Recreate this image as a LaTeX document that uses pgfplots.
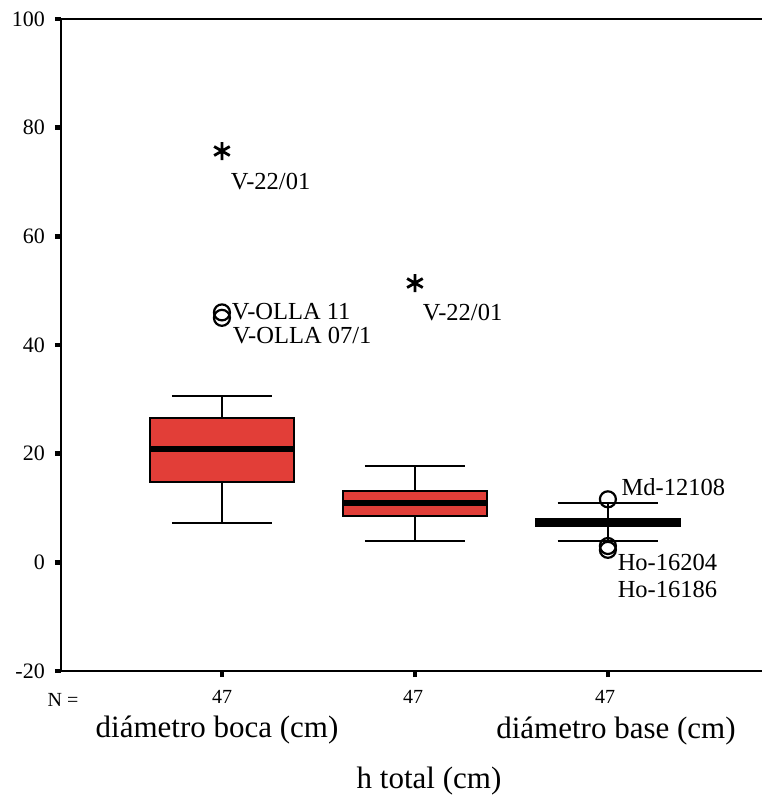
\documentclass[border=0pt]{standalone}
\usepackage{fontspec}
\setmainfont{Liberation Serif}
\usepackage{pgfplots}
\pgfplotsset{compat=1.18}
\definecolor{boxred}{RGB}{226,62,56}
\newcommand{\fs}[1]{\fontsize{#1}{#1}\selectfont}

\begin{document}
\begin{tikzpicture}
\begin{axis}[
  name=ax, at={(0,0)}, anchor=south west,
  scale only axis, width=709bp, height=652bp,
  xmin=0.166, xmax=3.84, ymin=-20, ymax=100,
  axis line style={line width=2.5bp},
  ytick={-20,0,20,40,60,80,100},
  xtick={1,2,3}, xticklabels={},
  tick align=outside, ytick pos=left, xtick pos=bottom,
  major tick length=6bp,
  tick style={line width=4.5bp, black},
  yticklabel style={font=\fs{22bp}, inner sep=0pt, anchor=east, xshift=-10bp},
  /pgf/number format/assume math mode=true,
  clip=false,
  unbounded coords=jump,
]

% diametro boca: box 14.8-26.5, median 20.8, whiskers 7.2 / 30.6
\addplot[black, line width=2bp] coordinates {
  (0.74,30.6)(1.26,30.6) (1,nan) (1,30.6)(1,26.5) (1,nan)
  (0.74,7.2)(1.26,7.2) (1,nan) (1,7.2)(1,14.8)};
\addplot[draw=black, fill=boxred, line width=2bp] coordinates {
  (0.625,14.8)(1.375,14.8)(1.375,26.5)(0.625,26.5)} -- cycle;
\addplot[black, line width=6bp] coordinates {(0.625,20.8)(1.375,20.8)};

% h total: box 8.5-13.1, median 11.0, whiskers 3.9 / 17.7
\addplot[black, line width=2bp] coordinates {
  (1.74,17.7)(2.26,17.7) (2,nan) (2,17.7)(2,13.1) (2,nan)
  (1.74,3.9)(2.26,3.9) (2,nan) (2,3.9)(2,8.5)};
\addplot[draw=black, fill=boxred, line width=2bp] coordinates {
  (1.625,8.5)(2.375,8.5)(2.375,13.1)(1.625,13.1)} -- cycle;
\addplot[black, line width=6bp] coordinates {(1.625,11.0)(2.375,11.0)};

% diametro base: box 6.6-8.0, median 7.3, whiskers 4.0 / 11.0
\addplot[black, line width=2bp] coordinates {
  (2.74,11.0)(3.26,11.0) (3,nan) (3,11.0)(3,8.0) (3,nan)
  (2.74,4.0)(3.26,4.0) (3,nan) (3,4.0)(3,6.6)};
\addplot[draw=black, fill=black, line width=2bp] coordinates {
  (2.625,6.6)(3.375,6.6)(3.375,8.0)(2.625,8.0)} -- cycle;
\addplot[black, line width=6bp] coordinates {(2.625,7.3)(3.375,7.3)};

% extremes and outliers
\addplot[black, only marks, mark=asterisk, mark size=9bp, line width=2.8bp]
  coordinates {(1,75.7) (2,51.4)};
\addplot[black, only marks, mark=o, mark size=8bp, line width=2.2bp]
  coordinates {(1,46.0) (1,45.0) (3,11.6) (3,3.0) (3,2.3)};

\node[anchor=west, inner sep=0pt, font=\fs{24.5bp}] at (axis cs:1.045,70) {V-22/01};
\node[anchor=west, inner sep=0pt, font=\fs{24.5bp}] at (axis cs:1.05,46.2) {V-OLLA 11};
\node[anchor=west, inner sep=0pt, font=\fs{24.5bp}] at (axis cs:1.055,41.8) {V-OLLA 07/1};
\node[anchor=west, inner sep=0pt, font=\fs{24.5bp}] at (axis cs:2.04,45.9) {V-22/01};
\node[anchor=west, inner sep=0pt, font=\fs{24.5bp}] at (axis cs:3.07,13.8) {Md-12108};
\node[anchor=west, inner sep=0pt, font=\fs{24.5bp}] at (axis cs:3.05,0) {Ho-16204};
\node[anchor=west, inner sep=0pt, font=\fs{24.5bp}] at (axis cs:3.05,-5.0) {Ho-16186};
\end{axis}

\node[inner sep=0pt, font=\fs{20bp}] at (2bp,-29bp) {N =};
\node[inner sep=0pt, font=\fs{20bp}] at (161bp,-26bp) {47};
\node[inner sep=0pt, font=\fs{20bp}] at (352bp,-26bp) {47};
\node[inner sep=0pt, font=\fs{20bp}] at (544bp,-26bp) {47};
\node[anchor=base, inner sep=0pt, font=\fs{31bp}] at (156bp,-66bp) {diámetro boca (cm)};
\node[anchor=base, inner sep=0pt, font=\fs{31bp}] at (555bp,-67bp) {diámetro base (cm)};
\node[anchor=base, inner sep=0pt, font=\fs{31bp}] at (368bp,-117bp) {h total (cm)};

\pgfresetboundingbox
\path[use as bounding box] (-61bp,-138bp) rectangle (701bp,671bp);
\end{tikzpicture}
\end{document}
